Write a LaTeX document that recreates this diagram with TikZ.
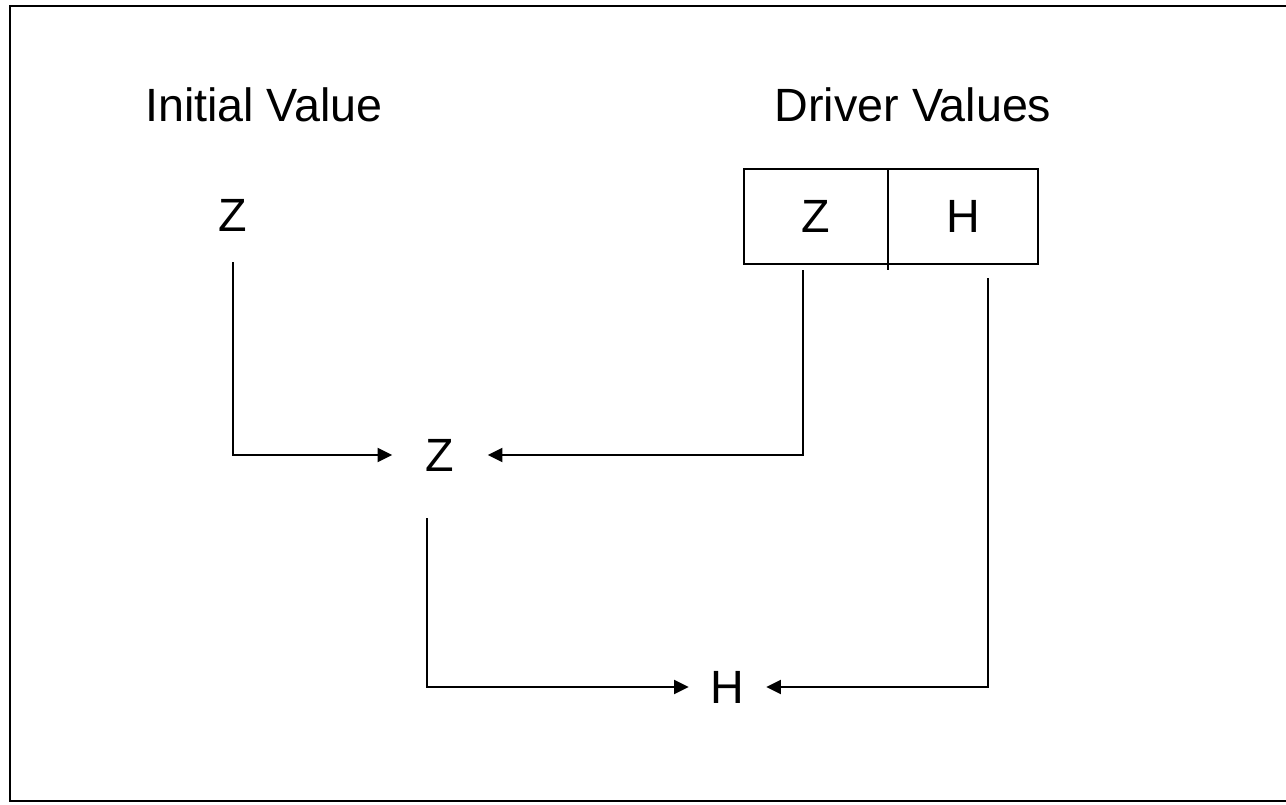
\documentclass[tikz,border=0pt]{standalone}
\usepackage{fontspec}
\setmainfont{Liberation Sans}
\usetikzlibrary{arrows.meta,calc}
\begin{document}
\begin{tikzpicture}[x=0.75pt,y=-0.75pt,
  lbl/.style={inner sep=0pt,font=\fontsize{35}{40}\selectfont},
  cell/.style={minimum height=71.25pt,inner sep=0pt,font=\fontsize{35}{40}\selectfont},
  conn/.style={line width=1.6pt},
  arr/.style={conn,-{Triangle[length=11pt,width=10.5pt]}}]
\useasboundingbox (0,0) rectangle (1286,804);
\fill[white] (0,0) rectangle (1286,804);
\draw[line width=2.2pt] (1286,6) -- (10,6) -- (10,801) -- (1286,801);
% labels
\node[lbl] (iv) at (264,105) {Initial Value};
\node[lbl] (dvl) at (913,105) {Driver Values};
\node[lbl] (z0) at (233,215) {Z};
% driver box
\node[cell,minimum width=108pt] (bz) at (816,216.5) {Z};
\node[cell,minimum width=111.75pt,anchor=west] (bh) at (bz.east) {H};
\draw[conn] (bz.north west) rectangle (bh.south east);
\draw[conn] (bz.north east) -- ($(bz.south east)+(0,6)$);
% middle nodes
\node[lbl,minimum width=71.25pt] (zm) at (440,455) {Z};
\node[lbl,minimum width=57.75pt] (hm) at (727.5,687) {H};
% connector start points
\coordinate (s1) at (233,262);
\coordinate (s2) at (803,270);
\coordinate (s3) at (427,518);
\coordinate (s4) at (988,278);
\draw[arr] (s1) |- (zm);
\draw[arr] (s2) |- (zm);
\draw[arr] (s3) |- (hm);
\draw[arr] (s4) |- (hm);
\end{tikzpicture}
\end{document}
